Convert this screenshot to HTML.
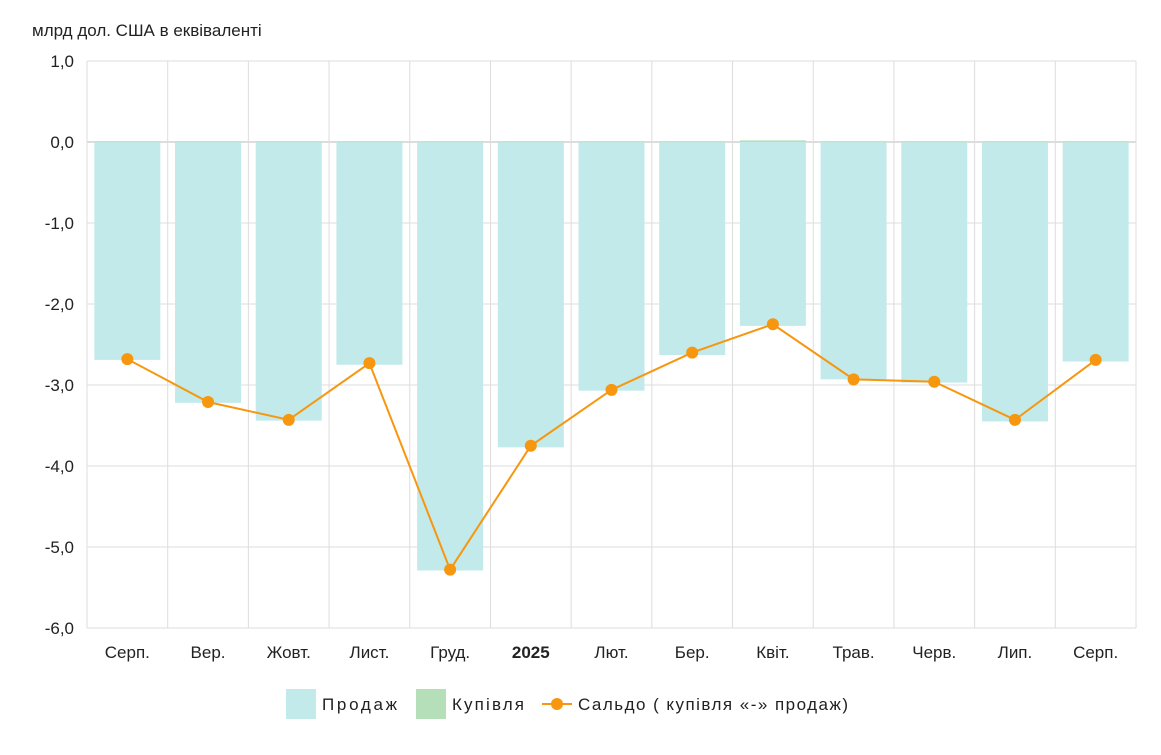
<!DOCTYPE html>
<html><head><meta charset="utf-8"><style>
body{margin:0;background:#fff;font-family:"Liberation Sans",sans-serif;}
svg text{font-family:"Liberation Sans",sans-serif;fill:#222;}
</style></head><body>
<svg id="c" width="1161" height="750">
<text x="32" y="36" font-size="17">млрд дол. США в еквіваленті</text>
<g id="grid"></g><g id="bars"></g><g id="line"></g><g id="labels"></g>
<g>
<rect x="286" y="689" width="30" height="30" fill="#c2eaea"/>
<text x="322" y="710" font-size="17" textLength="75">Продаж</text>
<rect x="416" y="689" width="30" height="30" fill="#b5dfb9"/>
<text x="452" y="710" font-size="17" textLength="72">Купівля</text>
<line x1="542" y1="704" x2="572" y2="704" stroke="#f7960f" stroke-width="2"/>
<circle cx="557" cy="704" r="6" fill="#f7960f"/>
<text x="578" y="710" font-size="17" textLength="270">Сальдо ( купівля «-» продаж)</text>
</g>
</svg>
<script>
const categories=["Серп.","Вер.","Жовт.","Лист.","Груд.","2025","Лют.","Бер.","Квіт.","Трав.","Черв.","Лип.","Серп."];
const sales=[-2.69,-3.22,-3.44,-2.75,-5.29,-3.77,-3.07,-2.63,-2.27,-2.93,-2.97,-3.45,-2.71];
const purchases=[0.01,0.01,0.01,0.01,0.01,0.01,0.01,0.01,0.02,0.01,0.01,0.01,0.01];
const balance=[-2.68,-3.21,-3.43,-2.73,-5.28,-3.75,-3.06,-2.60,-2.25,-2.93,-2.96,-3.43,-2.69];
const yTicks=[1,0,-1,-2,-3,-4,-5,-6];
const yTickLabels=["1,0","0,0","-1,0","-2,0","-3,0","-4,0","-5,0","-6,0"];
const NS="http://www.w3.org/2000/svg";
const L=87,R=1136,T=61,B=628,ymax=1,ymin=-6;
const y=v=>T+(ymax-v)/(ymax-ymin)*(B-T);
const bw=(R-L)/categories.length;
const x=i=>L+bw*(i+0.5);
function mk(p,tag,a){const e=document.createElementNS(NS,tag);for(const k in a)e.setAttribute(k,a[k]);document.getElementById(p).appendChild(e);return e;}
yTicks.forEach((t,i)=>{
 const g=mk('grid','line',{x1:L,x2:R,y1:y(t),y2:y(t),stroke:t===0?'#bbb':'#ddd','stroke-width':1});
 
 
 const tx=mk('labels','text',{x:L-13,y:y(t)+6,'text-anchor':'end','font-size':17});
 tx.textContent=yTickLabels[i];
 
 
});
for(let i=0;i<=categories.length;i++){
 const g=mk('grid','line',{x1:L+bw*i,x2:L+bw*i,y1:T,y2:B,stroke:'#ddd','stroke-width':1});
 
 
}
categories.forEach((c,i)=>{
 const w=66;
 const b=mk('bars','rect',{x:x(i)-w/2,y:y(0),width:w,height:y(sales[i])-y(0),fill:'#c2eaea'});
 
 
 const p=mk('bars','rect',{x:x(i)-w/2,y:y(purchases[i]),width:w,height:Math.max(1,y(0)-y(purchases[i])),fill:'#b5dfb9'});
 
 
 const t=mk('labels','text',{x:x(i),y:658,'text-anchor':'middle','font-size':17,'font-weight':c==='2025'?'bold':'normal'});
 t.textContent=c;
 
 
});
const pl=mk('line','polyline',{points:balance.map((v,i)=>x(i)+','+y(v)).join(' '),fill:'none',stroke:'#f7960f','stroke-width':2});


balance.forEach((v,i)=>{
 const c=mk('line','circle',{cx:x(i),cy:y(v),r:6,fill:'#f7960f'});
 
 
});
</script>
</body></html>
